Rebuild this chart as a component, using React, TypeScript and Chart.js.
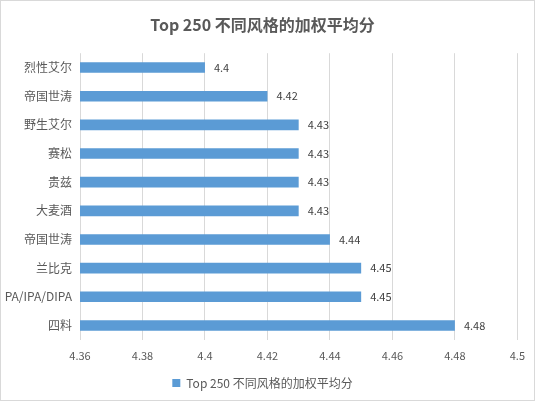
import React, { useEffect, useRef } from "react";
import { Chart, registerables } from "chart.js";

Chart.register(...registerables);

const categories = [
  "烈性艾尔",
  "帝国世涛",
  "野生艾尔",
  "赛松",
  "贵兹",
  "大麦酒",
  "帝国世涛",
  "兰比克",
  "PA/IPA/DIPA",
  "四料",
];
const values = [4.4, 4.42, 4.43, 4.43, 4.43, 4.43, 4.44, 4.45, 4.45, 4.48];
const xTicks = [4.36, 4.38, 4.4, 4.42, 4.44, 4.46, 4.48, 4.5];
const seriesName = "Top 250 不同风格的加权平均分";
const chartTitle = "Top 250 不同风格的加权平均分";

const FONT = "'Segoe UI', 'Noto Sans CJK SC', 'Noto Sans', sans-serif";

const dataLabels = {
  id: "dataLabels",
  afterDatasetsDraw(chart: any) {
    const ctx = chart.ctx;
    const meta = chart.getDatasetMeta(0);
    ctx.save();
    ctx.font = `11px ${FONT}`;
    ctx.fillStyle = "#404040";
    ctx.textAlign = "left";
    ctx.textBaseline = "middle";
    meta.data.forEach((bar: any, i: number) => {
      ctx.fillText(String(values[i]), bar.x + 9, bar.y);
    });
    ctx.restore();
  },
};

export default function App() {
  const ref = useRef<HTMLCanvasElement>(null);
  useEffect(() => {
    document.body.style.margin = "0";
    const chart = new Chart(ref.current!, {
      type: "bar",
      data: {
        labels: categories,
        datasets: [
          {
            label: seriesName,
            data: values,
            backgroundColor: "#5B9BD5",
            borderWidth: 0,
            barPercentage: 0.37,
            categoryPercentage: 1,
          },
        ],
      },
      options: {
        indexAxis: "y",
        animation: false,
        responsive: false,
        maintainAspectRatio: false,
        layout: { padding: { left: 0, right: 10, top: 0, bottom: 1 } },
        plugins: {
          title: {
            display: true,
            text: chartTitle,
            color: "#595959",
            font: { family: FONT, size: 16, weight: "bold" },
            padding: { top: 14, bottom: 19 },
          },
          legend: {
            position: "bottom",
            labels: {
              color: "#595959",
              font: { family: FONT, size: 12 },
              boxWidth: 8,
              boxHeight: 8,
              padding: 6,
            },
          },
          tooltip: { enabled: false },
        },
        scales: {
          x: {
            min: 4.36,
            max: 4.5,
            afterBuildTicks(scale: any) {
              scale.ticks = xTicks.map((v) => ({ value: v }));
            },
            grid: { color: "#D9D9D9", drawTicks: false },
            border: { display: false },
            ticks: {
              color: "#595959",
              font: { family: FONT, size: 11 },
              padding: 9,
              callback: (v: any) => String(Math.round(Number(v) * 100) / 100),
            },
          },
          y: {
            grid: { display: false, drawTicks: false },
            border: { display: false },
            ticks: {
              color: "#595959",
              font: { family: FONT, size: 12 },
              padding: 8,
              autoSkip: false,
            },
            afterFit(scale: any) {
              scale.width = 79;
            },
          },
        },
      },
      plugins: [dataLabels],
    });
    return () => chart.destroy();
  }, []);
  return (
    <div
      style={{
        position: "absolute",
        left: 0,
        top: 0,
        width: 535,
        height: 401,
        boxSizing: "border-box",
        border: "1px solid #D9D9D9",
        background: "#fff",
      }}
    >
      <canvas ref={ref} width={533} height={399} style={{ display: "block" }} />
    </div>
  );
}
